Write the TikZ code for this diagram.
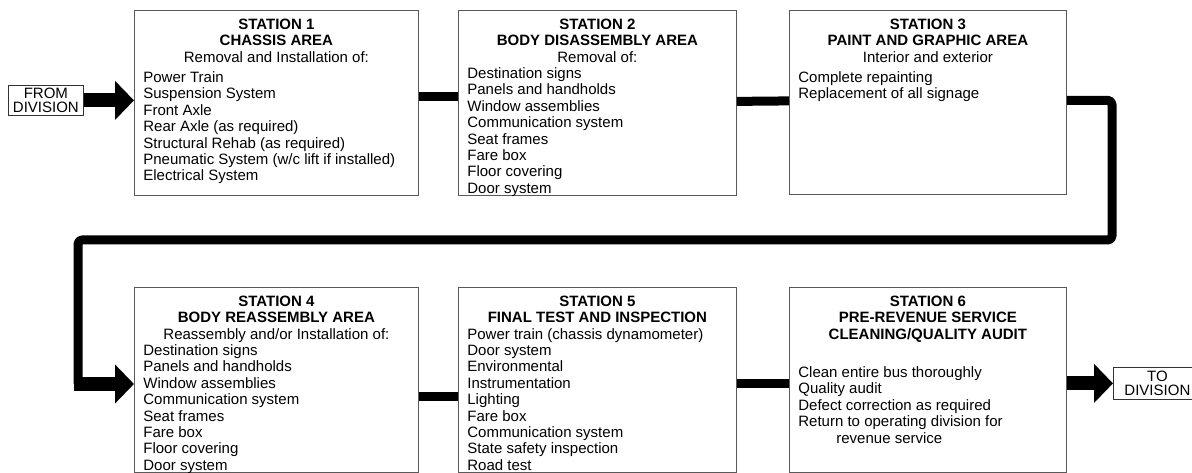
\documentclass[tikz,border=0pt]{standalone}
\usepackage{fontspec}
\setmainfont{Liberation Sans}
\usetikzlibrary{arrows.meta}
\tikzset{
  station/.style={draw=black!65, line width=0.8pt, inner sep=0pt, anchor=north west,
    font=\fontsize{15}{16.4}\selectfont},
  divbox/.style={draw=black!80, line width=0.8pt, inner sep=0pt, anchor=north west,
    align=center, font=\fontsize{15}{14}\selectfont},
  link/.style={line width=9pt, line cap=butt},
  route/.style={line width=9pt, rounded corners=4pt, line join=round},
  bigarrow/.style={line width=14pt, -{Triangle[width=38pt,length=19pt]}},
}
\newcommand{\stbox}[4]{\parbox[c][#2][t]{#1}{\vspace*{7.5pt}{\centering\strut #3\par}\raggedright\leftskip=9pt #4\par}}
\begin{document}
\begin{tikzpicture}[x=1pt,y=-1pt]
\useasboundingbox (0,0) rectangle (1192,473);
\clip (0,0) rectangle (1192,473);
% top row
\node[station] (s1) at (134,10) {\stbox{284pt}{185pt}{\textbf{STATION 1}\\\textbf{CHASSIS AREA}\\Removal and Installation of:}{\vspace{4pt}Power Train\\Suspension System\\Front Axle\\Rear Axle (as required)\\Structural Rehab (as required)\\Pneumatic System (w/c lift if installed)\\Electrical System}};
\node[station] (s2) at (458,10) {\stbox{278pt}{185pt}{\textbf{STATION 2}\\\textbf{BODY DISASSEMBLY AREA}\\Removal of:}{Destination signs\\Panels and handholds\\Window assemblies\\Communication system\\Seat frames\\Fare box\\Floor covering\\Door system}};
\node[station] (s3) at (789,10) {\stbox{277pt}{184pt}{\textbf{STATION 3}\\\textbf{PAINT AND GRAPHIC AREA}\\Interior and exterior}{\vspace{4pt}Complete repainting\\Replacement of all signage}};
% bottom row
\node[station] (s4) at (134,287) {\stbox{284pt}{185pt}{\textbf{STATION 4}\\\textbf{BODY REASSEMBLY AREA}\\Reassembly and/or Installation of:}{Destination signs\\Panels and handholds\\Window assemblies\\Communication system\\Seat frames\\Fare box\\Floor covering\\Door system}};
\node[station] (s5) at (458,287) {\stbox{278pt}{185pt}{\textbf{STATION 5}\\\textbf{FINAL TEST AND INSPECTION}}{Power train (chassis dynamometer)\\Door system\\Environmental\\Instrumentation\\Lighting\\Fare box\\Communication system\\State safety inspection\\Road test}};
\node[station] (s6) at (789,287) {\stbox{277pt}{185pt}{\textbf{STATION 6}\\\textbf{PRE-REVENUE SERVICE}\\\textbf{CLEANING/QUALITY AUDIT}}{\vspace{22pt}Clean entire bus thoroughly\\Quality audit\\Defect correction as required\\Return to operating division for\\\hspace*{38pt}revenue service}};
% division boxes
\node[divbox, minimum width=75pt, minimum height=30pt] (from) at (8,85) {FROM\\DIVISION};
\node[divbox, minimum width=88pt, minimum height=32pt] (to) at (1113,367) {TO\\DIVISION};
% connectors
\draw[bigarrow] (from.east) -- (from.east -| s1.west);
\draw[link] ([yshift=6.5pt]s1.east) -- ([yshift=6.5pt]s2.west);
\draw[link] ([yshift=1.5pt]s2.east) -- ([yshift=1.5pt]s3.west);
\coordinate (c1) at (1112,240);
\coordinate (c2) at (78,384);
\coordinate (c3) at (73.5,384);
\draw[route] ([yshift=2pt]s3.east) -| (c1) -| (c2);
\draw[bigarrow] (c3) -- (c3 -| s4.west);
\draw[link] ([yshift=-16.5pt]s4.east) -- ([yshift=-16.5pt]s5.west);
\draw[link] ([yshift=-3.5pt]s5.east) -- ([yshift=-3.5pt]s6.west);
\draw[bigarrow] (to.west -| s6.east) -- (to.west);
\end{tikzpicture}
\end{document}
